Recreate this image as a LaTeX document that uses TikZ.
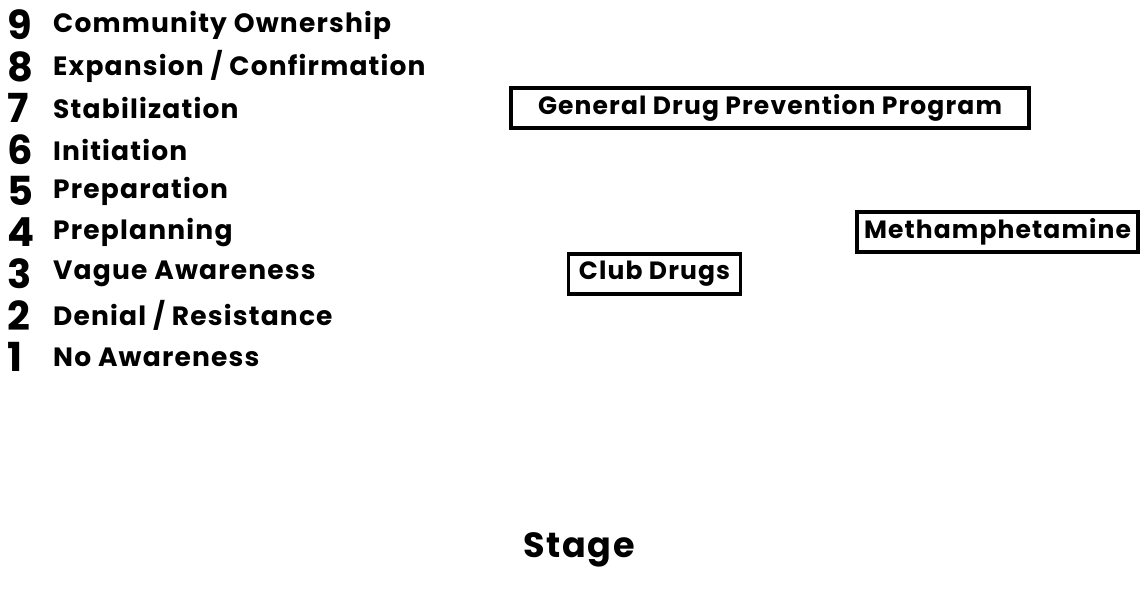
\documentclass[tikz,border=0pt]{standalone}
\usepackage{fontspec}
\setmainfont{Poppins}
\newfontfamily\labfont[LetterSpace=4.5]{Poppins}
\begin{document}
\begin{tikzpicture}[x=1pt,y=-1pt,
  num/.style={anchor=west,inner sep=0pt,font=\fontsize{40}{44}\selectfont\bfseries},
  lab/.style={anchor=west,inner sep=0pt,font=\labfont\fontsize{26.5}{30}\selectfont\bfseries},
  prog/.style={draw,line width=3.5pt,inner sep=0pt,minimum height=40pt,font=\labfont\fontsize{25}{29}\selectfont\bfseries},
  axis/.style={inner sep=0pt,font=\labfont\fontsize{35}{39}\selectfont\bfseries}]
\useasboundingbox (0,0) rectangle (1141,589);
\foreach \k/\t [count=\i from 0] in {9/{Community Ownership},8/{Expansion / Confirmation},7/{Stabilization},6/{Initiation},5/{Preparation},4/{Preplanning},3/{Vague Awareness},2/{Denial / Resistance},1/{No Awareness}}{
  \node[num] (n\k) at (7,{25+41.5*\i}) {\k};
  \node[lab] (l\k) at (53,{25+41.5*\i}) {\t};
}
\node[prog,minimum width=518pt] (gen) at (770,108) {General Drug Prevention Program};
\node[prog,minimum width=281pt] (meth) at (997.5,232) {Methamphetamine};
\node[prog,minimum width=172pt] (club) at (654.5,274) {Club Drugs};
\node[axis] (stage) at (579,550) {Stage};
\end{tikzpicture}
\end{document}
